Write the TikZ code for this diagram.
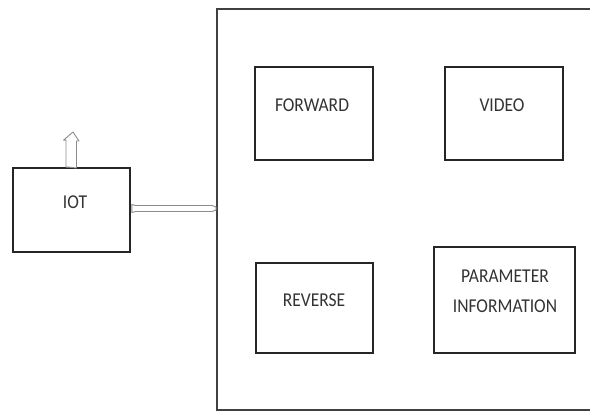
\documentclass[tikz,border=0pt]{standalone}
\usepackage{fontspec}
\setmainfont{Carlito}
\usetikzlibrary{calc}
\begin{document}
\begin{tikzpicture}[x=1pt,y=-1pt,
  blk/.style={draw=black!85, line width=1.6pt, fill=white, inner sep=0pt},
  lbl/.style={font=\fontsize{17.5}{20}\selectfont, text=black!80, align=center, yscale=1.12},
  harrow/.style={draw=black!45, line width=0.9pt, fill=white, line join=round}]
\useasboundingbox (0,0) rectangle (590,412);
% main frame (open on the right)
\draw[black!75, line width=1.3pt] (592,9) -- (217,9) -- (217,410) -- (592,410);
\coordinate (frame) at (217,208.5);
% boxes
\node[blk, minimum width=117pt, minimum height=84pt] (iot) at (71.5,210) {};
\node[lbl] (iott) at (75,202) {IOT};
\node[blk, minimum width=118pt, minimum height=93pt] (fwd) at (314,113.5) {};
\node[lbl] at (312,105) {FORWARD};
\node[blk, minimum width=118pt, minimum height=93pt] (vid) at (504,113.5) {};
\node[lbl] at (502,105) {VIDEO};
\node[blk, minimum width=117pt, minimum height=90pt] (rev) at (314.5,308) {};
\node[lbl] at (314,300) {REVERSE};
\node[blk, minimum width=141pt, minimum height=106pt] (par) at (504.5,300) {};
\node[lbl, font=\fontsize{17.5}{27}\selectfont] at (505,291.5) {PARAMETER\\INFORMATION};
% up arrow from IOT
\coordinate (uptip) at (73,132);
\draw[harrow] ($(iot.north)+(-2,0)$) -- ++(-3.5,0) -- ++(0,-27) -- ++(-2.5,0) -- (uptip) -- ++(6,9) -- ++(-2.5,0) -- ++(0,27) -- cycle;
% right arrow from IOT to frame
\coordinate (ae) at (iot.east |- frame);
\draw[harrow] ($(ae)+(1,-4)$) -- ($(ae)+(5,-3)$) -- ($(frame)+(-5,-3)$) -- ($(frame)+(-1,-1.5)$) -- ($(frame)+(-1,1.5)$) -- ($(frame)+(-5,3)$) -- ($(ae)+(5,3)$) -- ($(ae)+(1,4)$) -- cycle;
\end{tikzpicture}
\end{document}
